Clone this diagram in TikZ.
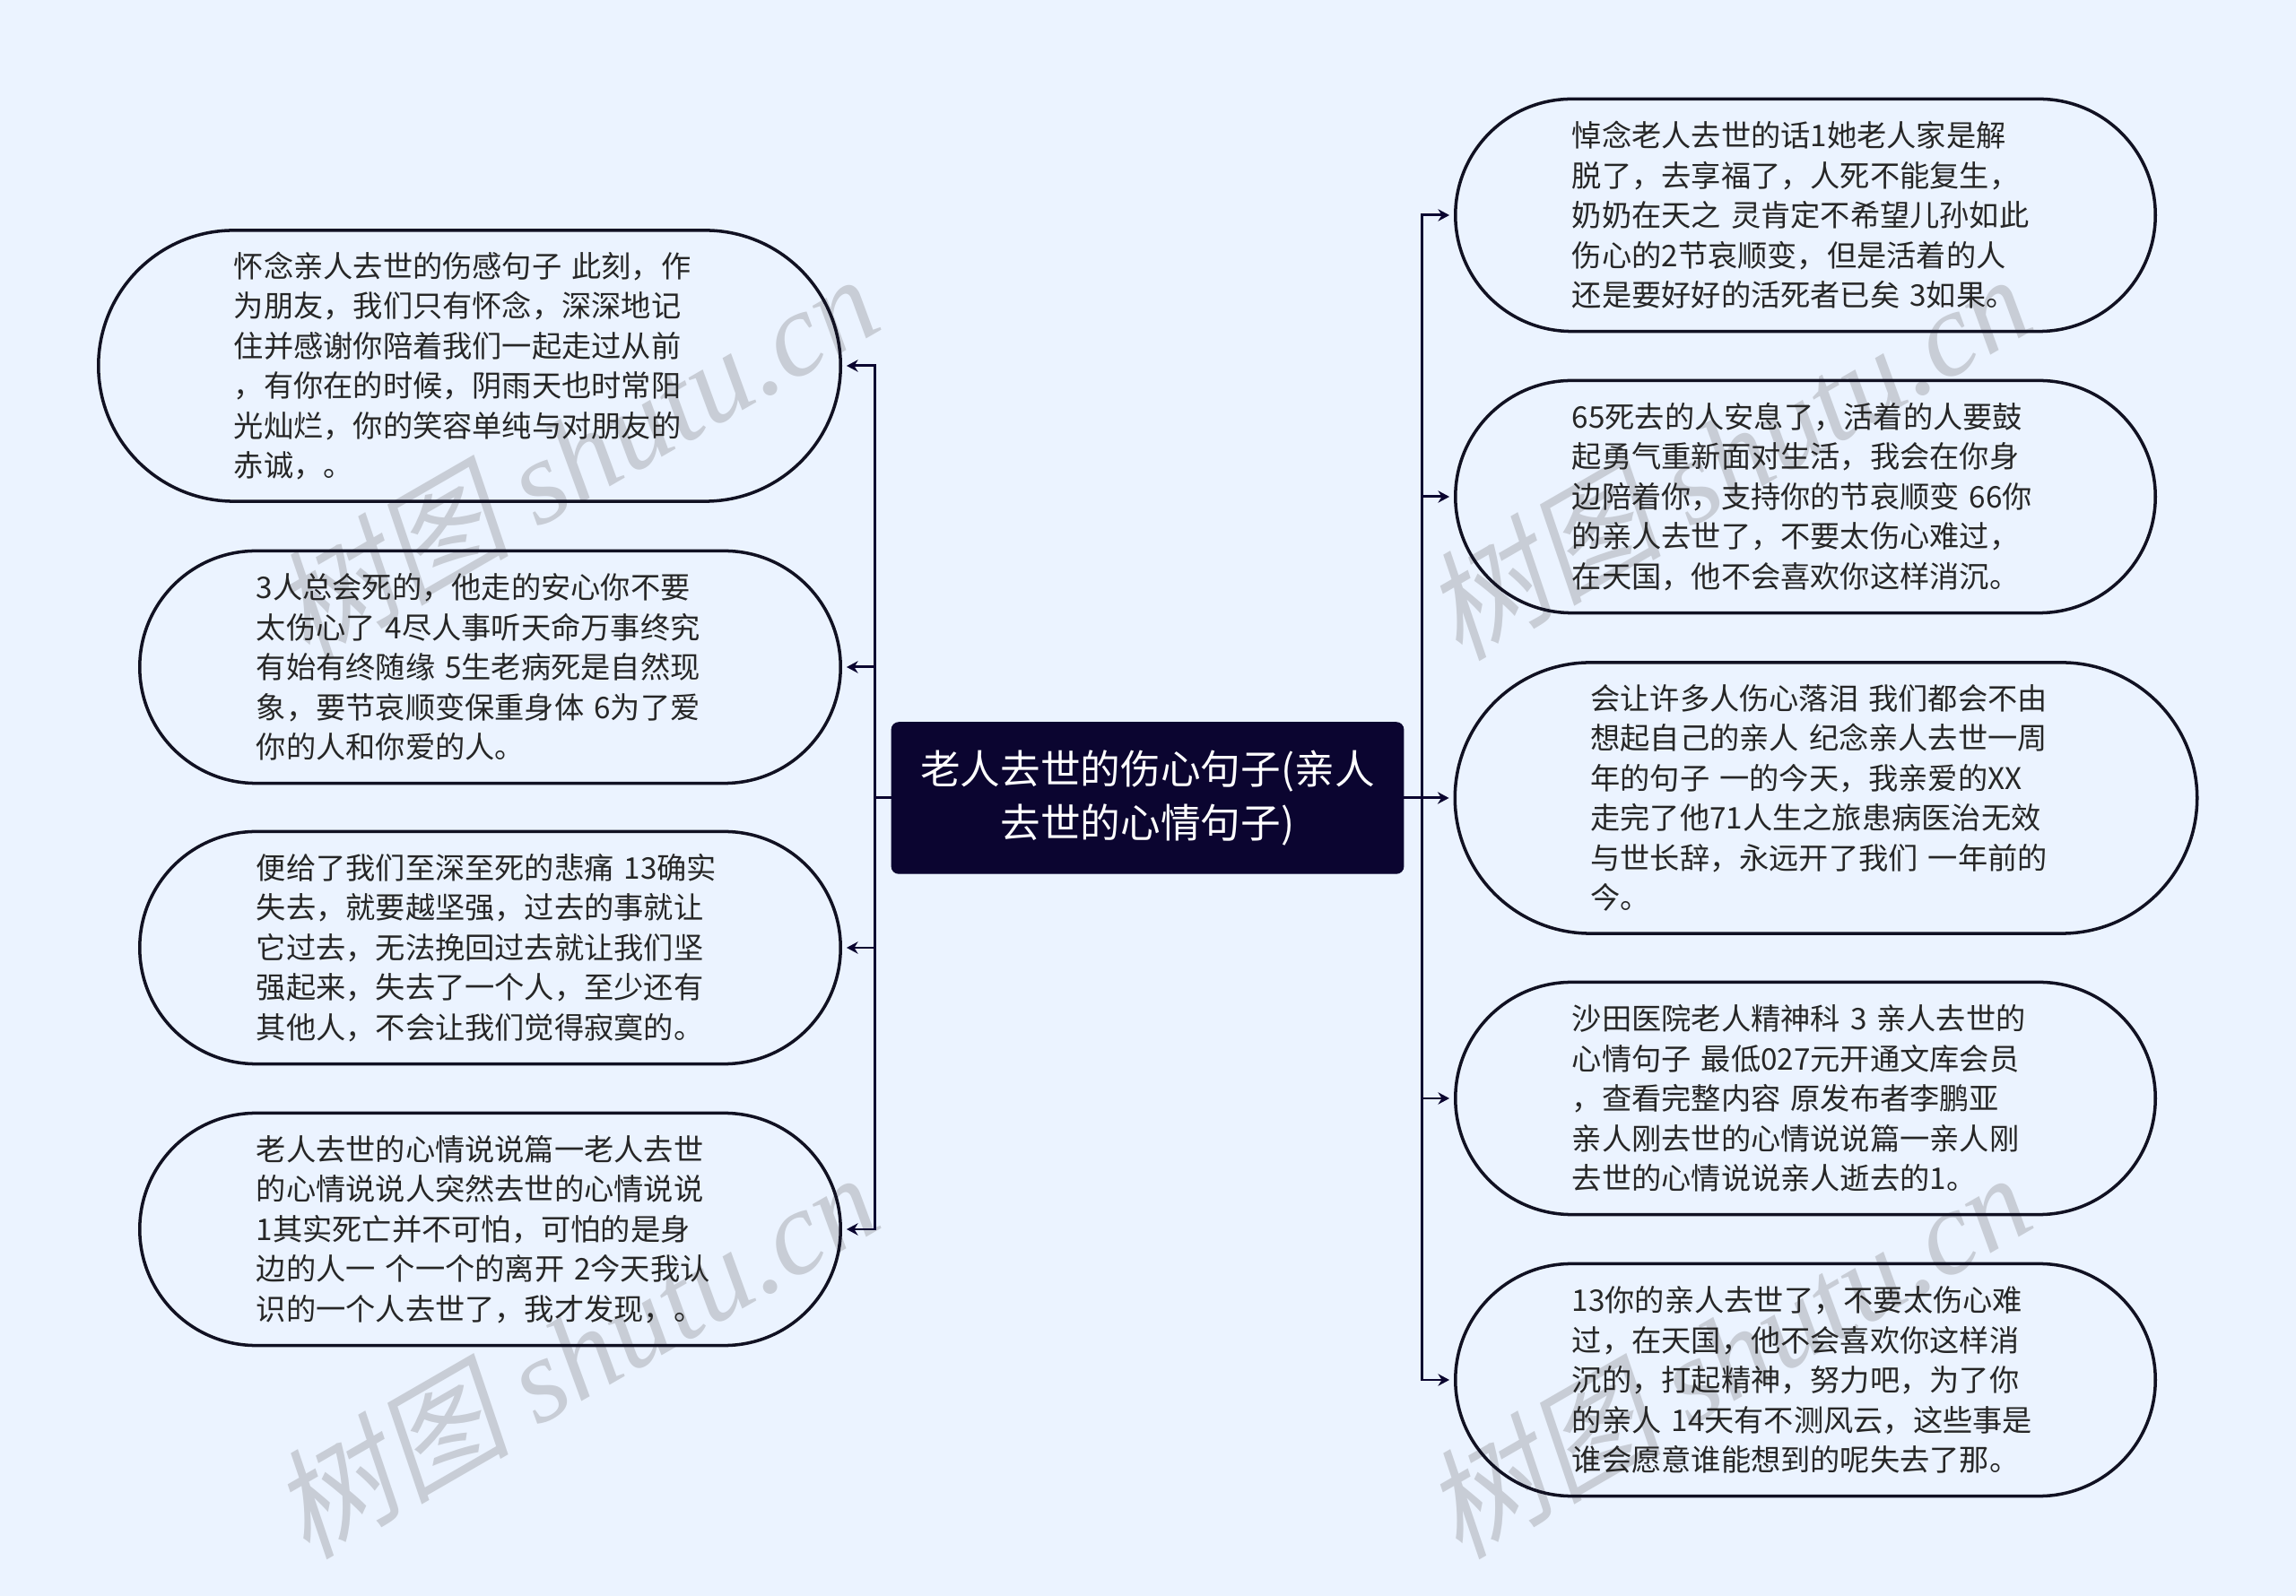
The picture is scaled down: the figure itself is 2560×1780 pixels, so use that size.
\documentclass[tikz,border=0pt]{standalone}
\usepackage{fontspec}
\usepackage{xcolor}
\usetikzlibrary{arrows.meta,shapes.misc}
\setmainfont{Noto Sans CJK SC}
\newfontfamily\markcjk[FakeSlant=0.2]{Noto Sans CJK SC}
\newfontfamily\marklatin{Liberation Serif}
\definecolor{pagebg}{HTML}{EBF3FF}
\definecolor{titlebg}{HTML}{0B0530}
\definecolor{boxline}{HTML}{111122}
\definecolor{marktext}{HTML}{C8CDD6}
\tikzset{
	idea/.style={rounded rectangle, draw=boxline, line width=1pt, inner sep=0pt, align=left, text=black!85, font=\fontsize{9.45}{12.65}\selectfont},
	shortidea/.style={idea, minimum height=2.59cm, text width=5.2cm, minimum width=7.8cm},
	leftidea/.style={idea, minimum height=2.59cm, text width=5.21cm, minimum width=7.81cm},
	talllidea/.style={idea, minimum height=3.02cm, text width=5.25cm, minimum width=8.27cm},
	titlebox/.style={rectangle, rounded corners=2.2pt, fill=titlebg, draw=titlebg, text=white, align=center, minimum width=5.7cm, minimum height=1.68cm, font=\fontsize{12.7}{17}\selectfont},
	link/.style={draw=titlebg, line width=0.85pt, -{Stealth[length=3.6pt,width=3.8pt]}, shorten >=1.4pt},
	stub/.style={draw=titlebg, line width=0.85pt},
	watermark/.style={text=marktext, rotate=30, font=\fontsize{38}{38}\selectfont}
}
\begin{document}
\begin{tikzpicture}[x=0.01cm,y=-0.01cm]
	\useasboundingbox[fill=pagebg] (0,0) rectangle (2560,1780);

	% watermarks
	\node[watermark] (markA) at (640,508) {{\markcjk 树图} {\marklatin\itshape shutu.cn}};
	\node[watermark] (markB) at (1925,508) {{\markcjk 树图} {\marklatin\itshape shutu.cn}};
	\node[watermark] (markC) at (640,1510) {{\markcjk 树图} {\marklatin\itshape shutu.cn}};
	\node[watermark] (markD) at (1925,1510) {{\markcjk 树图} {\marklatin\itshape shutu.cn}};

	\node[titlebox] (title) at (1279.5,890) {老人去世的伤心句子(亲人\\去世的心情句子)};

	% left side
	\node[talllidea] (grief) at (523.5,408) {怀念亲人去世的伤感句子 此刻，作\\为朋友，我们只有怀念，深深地记\\住并感谢你陪着我们一起走过从前\\，有你在的时候，阴雨天也时常阳\\光灿烂，你的笑容单纯与对朋友的\\赤诚，。};
	\node[leftidea] (accept) at (546.5,744) {3人总会死的，他走的安心你不要\\太伤心了 4尽人事听天命万事终究\\有始有终随缘 5生老病死是自然现\\象，要节哀顺变保重身体 6为了爱\\你的人和你爱的人。};
	\node[leftidea] (strong) at (546.5,1057) {便给了我们至深至死的悲痛 13确实\\失去，就要越坚强，过去的事就让\\它过去，无法挽回过去就让我们坚\\强起来，失去了一个人，至少还有\\其他人，不会让我们觉得寂寞的。};
	\node[leftidea] (mood) at (546.5,1371) {老人去世的心情说说篇一老人去世\\的心情说说人突然去世的心情说说\\1其实死亡并不可怕，可怕的是身\\边的人一 个一个的离开 2今天我认\\识的一个人去世了，我才发现，。};

	% right side
	\node[shortidea] (mourn) at (2013,240) {悼念老人去世的话1她老人家是解\\脱了，去享福了，人死不能复生，\\奶奶在天之 灵肯定不希望儿孙如此\\伤心的2节哀顺变，但是活着的人\\还是要好好的活死者已矣 3如果。};
	\node[shortidea] (rest) at (2013,554) {65死去的人安息了，活着的人要鼓\\起勇气重新面对生活，我会在你身\\边陪着你，支持你的节哀顺变 66你\\的亲人去世了，不要太伤心难过，\\在天国，他不会喜欢你这样消沉。};
	\node[talllidea] (anniv) at (2036,890) {会让许多人伤心落泪 我们都会不由\\想起自己的亲人 纪念亲人去世一周\\年的句子 一的今天，我亲爱的XX\\走完了他71人生之旅患病医治无效\\与世长辞，永远开了我们 一年前的\\今。};
	\node[shortidea] (clinic) at (2013,1225) {沙田医院老人精神科 3 亲人去世的\\心情句子 最低027元开通文库会员\\，查看完整内容 原发布者李鹏亚\\亲人刚去世的心情说说篇一亲人刚\\去世的心情说说亲人逝去的1。};
	\node[shortidea] (fate) at (2013,1539) {13你的亲人去世了，不要太伤心难\\过，在天国，他不会喜欢你这样消\\沉的，打起精神，努力吧，为了你\\的亲人 14天有不测风云，这些事是\\谁会愿意谁能想到的呢失去了那。};

	\coordinate (trunkL) at (975,890);
	\coordinate (trunkR) at (1585,890);

	\draw[stub] (title.west) -- (trunkL);
	\draw[stub] (title.east) -- (trunkR);
	\foreach \leaf in {grief,accept,strong,mood}
		\draw[link] (trunkL) |- (\leaf.east);
	\foreach \leaf in {mourn,rest,anniv,clinic,fate}
		\draw[link] (trunkR) |- (\leaf.west);
\end{tikzpicture}
\end{document}
